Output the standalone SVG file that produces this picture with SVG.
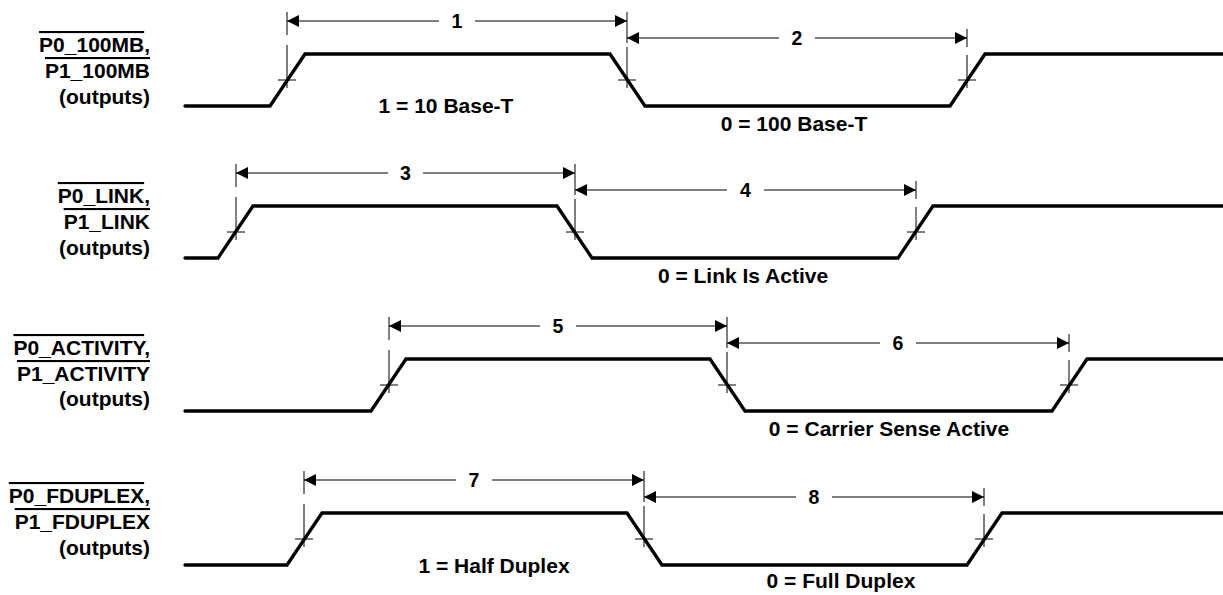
<svg xmlns="http://www.w3.org/2000/svg" width="1223" height="595" viewBox="0 0 1223 595">
<style>
text{font-family:"Liberation Sans",Arial,Helvetica,sans-serif;font-weight:bold;font-size:21px;fill:#000}
.lbl{text-anchor:end}
.mid{text-anchor:middle}
.num{text-anchor:middle;font-size:19.5px}
.sig{fill:none;stroke:#000;stroke-width:3.3;stroke-linejoin:miter;stroke-linecap:round}
.tick{stroke:#000;stroke-width:1;fill:none}
.dim{stroke:#000;stroke-width:1.2;fill:none;marker-end:url(#ah)}
</style>
<defs>
<marker id="ah" viewBox="0 0 12 12" refX="12" refY="6" markerWidth="12" markerHeight="12" markerUnits="userSpaceOnUse" orient="auto">
<path d="M0,0 L12,6 L0,12 z" fill="#000"/>
</marker>
</defs>
<rect width="1223" height="595" fill="#fff"/>

<g id="row-100mb">
<text class="lbl" x="150" y="52"><tspan text-decoration="overline">P0_100MB</tspan>,</text>
<text class="lbl" x="150" y="78"><tspan text-decoration="overline">P1_100MB</tspan></text>
<text class="lbl" x="150" y="104">(outputs)</text>
<path class="sig" d="M185,106 H270 L305,54 H610 L645,106 H950 L985,54 H1223"/>
<path class="tick" d="M287,12 V35 M287,45 V88 M278,80 H296 M627,12 V43 M627,47 V88 M618,80 H636 M967,29 V47 M967,55 V88 M958,80 H976"/>
<text class="mid" x="446" y="113">1 = 10 Base-T</text>
<text class="mid" x="794" y="131">0 = 100 Base-T</text>
</g>

<g id="row-link">
<text class="lbl" x="150" y="203"><tspan text-decoration="overline">P0_LINK</tspan>,</text>
<text class="lbl" x="150" y="229"><tspan text-decoration="overline">P1_LINK</tspan></text>
<text class="lbl" x="150" y="255">(outputs)</text>
<path class="sig" d="M185,258 H218 L253,206 H557 L592,258 H898 L933,206 H1223"/>
<path class="tick" d="M236,164 V187 M236,197 V240 M227,232 H245 M575,164 V195 M575,199 V240 M566,232 H584 M916,181 V199 M916,207 V240 M907,232 H925"/>
<text class="mid" x="743" y="283">0 = Link Is Active</text>
</g>

<g id="row-activity">
<text class="lbl" x="150" y="355"><tspan text-decoration="overline">P0_ACTIVITY</tspan>,</text>
<text class="lbl" x="150" y="381"><tspan text-decoration="overline">P1_ACTIVITY</tspan></text>
<text class="lbl" x="150" y="406">(outputs)</text>
<path class="sig" d="M185,411 H371 L406,359 H710 L745,411 H1052 L1087,359 H1223"/>
<path class="tick" d="M389,317 V340 M389,350 V393 M380,385 H398 M727,317 V348 M727,352 V393 M718,385 H736 M1069,334 V352 M1069,360 V393 M1060,385 H1078"/>
<text class="mid" x="889" y="436">0 = Carrier Sense Active</text>
</g>

<g id="row-fduplex">
<text class="lbl" x="150" y="503"><tspan text-decoration="overline">P0_FDUPLEX</tspan>,</text>
<text class="lbl" x="150" y="529"><tspan text-decoration="overline">P1_FDUPLEX</tspan></text>
<text class="lbl" x="150" y="555">(outputs)</text>
<path class="sig" d="M185,565 H287 L322,513 H627 L662,565 H967 L1002,513 H1223"/>
<path class="tick" d="M304,471 V494 M304,504 V547 M295,539 H313 M644,471 V502 M644,506 V547 M635,539 H653 M984,488 V506 M984,514 V547 M975,539 H993"/>
<text class="mid" x="494" y="573">1 = Half Duplex</text>
<text class="mid" x="841" y="588">0 = Full Duplex</text>
</g>

<g id="connectors">
<line class="dim" x1="439" y1="21" x2="287" y2="21"/>
<line class="dim" x1="475" y1="21" x2="627" y2="21"/>
<text class="num" x="457" y="28">1</text>
<line class="dim" x1="779" y1="38" x2="627" y2="38"/>
<line class="dim" x1="815" y1="38" x2="967" y2="38"/>
<text class="num" x="797" y="45">2</text>

<line class="dim" x1="388" y1="173" x2="236" y2="173"/>
<line class="dim" x1="423" y1="173" x2="575" y2="173"/>
<text class="num" x="405.5" y="180">3</text>
<line class="dim" x1="727" y1="190" x2="575" y2="190"/>
<line class="dim" x1="764" y1="190" x2="916" y2="190"/>
<text class="num" x="745.5" y="197">4</text>

<line class="dim" x1="540" y1="326" x2="389" y2="326"/>
<line class="dim" x1="576" y1="326" x2="727" y2="326"/>
<text class="num" x="558" y="333">5</text>
<line class="dim" x1="880" y1="343" x2="727" y2="343"/>
<line class="dim" x1="916" y1="343" x2="1069" y2="343"/>
<text class="num" x="898" y="350">6</text>

<line class="dim" x1="456" y1="480" x2="304" y2="480"/>
<line class="dim" x1="492" y1="480" x2="644" y2="480"/>
<text class="num" x="474" y="487">7</text>
<line class="dim" x1="796" y1="497" x2="644" y2="497"/>
<line class="dim" x1="832" y1="497" x2="984" y2="497"/>
<text class="num" x="814" y="504">8</text>
</g>
</svg>
